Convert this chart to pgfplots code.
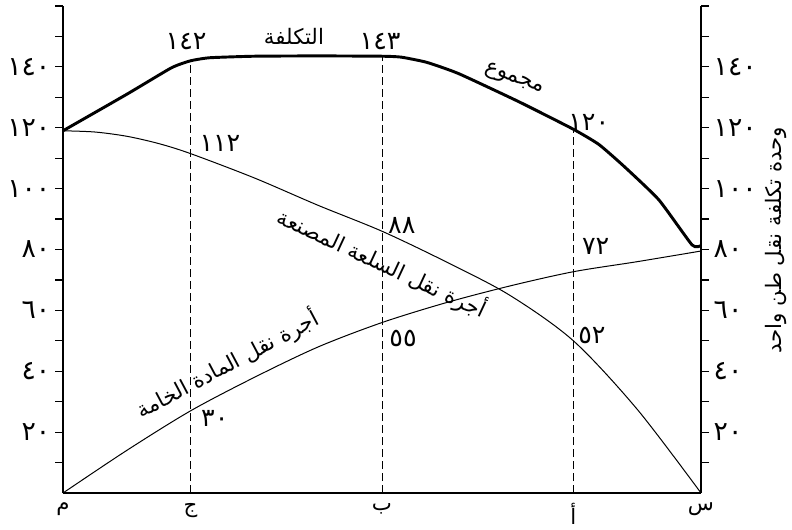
\documentclass[border=0pt]{standalone}
\usepackage{pgfplots}
\pgfplotsset{compat=1.18}
\usepackage{fontspec}
\newfontfamily\arabicfont[Script=Arabic]{DejaVu Sans}
\TeXXeTstate=1
\newcommand{\ar}[1]{{\arabicfont\fontsize{16}{18}\selectfont\beginR #1\endR}}
\newcommand{\num}[1]{{\arabicfont\fontsize{19}{21}\selectfont #1}}

\pgfplotsset{
  costaxis/.style={
    at={(0,0)}, anchor=south west,
    scale only axis, width=478.5pt, height=365.25pt,
    xmin=0, xmax=100, ymin=0, ymax=160,
    ytick={20,40,60,80,100,120,140},
    yticklabels={٢٠,٤٠,٦٠,٨٠,١٠٠,١٢٠,١٤٠},
    minor ytick={10,30,50,70,90,110,130,150,160},
    tick align=outside, major tick length=6pt, minor tick length=6pt,
    ytick style={line width=0.9pt, black},
    axis line style={line width=0.9pt},
    yticklabel style={font=\arabicfont\fontsize{20}{22}\selectfont},
    xticklabel style={font=\arabicfont\fontsize{16}{18}\selectfont, yshift=2pt},
    clip=false,
  }
}

\begin{document}
\begin{tikzpicture}
\useasboundingbox (-47.25pt,-27pt) rectangle (546.75pt,369.75pt);
\begin{axis}[costaxis,
  axis x line*=bottom, axis y line*=left,
  xtick={0,20,50,80,100},
  xticklabels={م,ج,ب,أ,س},
  xtick style={draw=none},
]
% guide lines
\addplot[black, line width=0.7pt, dash pattern=on 6pt off 3pt] coordinates {(20,0) (20,142)};
\addplot[black, line width=0.7pt, dash pattern=on 6pt off 3pt] coordinates {(50,0) (50,143.5)};
\addplot[black, line width=0.7pt, dash pattern=on 6pt off 3pt] coordinates {(80,0) (80,119.5)};
% raw material transport cost
\addplot[black, line width=0.75pt, smooth] coordinates {
  (0,0) (10,14) (20,27) (30,38) (40,48) (50,56) (60,62.5) (70,68) (80,72.7) (90,76) (100,79.5)};
% finished goods transport cost
\addplot[black, line width=0.75pt, smooth] coordinates {
  (0,119) (5,118.6) (10,117.2) (15,114.8) (20,111.5) (30,103.5) (40,94.5) (50,86) (60,76) (70,65) (80,50) (90,27.5) (100,0)};
% total
\addplot[black, line width=2.2pt, smooth, tension=0.3] coordinates {
  (0,119) (10,131) (17,139.7) (20,142) (23,143) (30,143.5) (40,143.6) (50,143.5) (53,143.2)
  (57,141.5) (62,137.8) (71.5,128.5) (80,119.5) (84,114.5) (88,107.2) (93.4,96.3) (98.6,81.5) (100,81.3)};

\node at (axis cs:19.3,148.2) {\num{١٤٢}};
\node at (axis cs:36.2,150.1) {\ar{التكلفة}};
\node at (axis cs:49.7,148.2) {\num{١٤٣}};
\node[rotate=-20] at (axis cs:70.7,136) {\ar{مجموع}};
\node at (axis cs:82.4,121.9) {\num{١٢٠}};
\node at (axis cs:24.6,114.7) {\num{١١٢}};
\node at (axis cs:53.1,88) {\num{٨٨}};
\node at (axis cs:83.5,81.1) {\num{٧٢}};
\node at (axis cs:53.3,50.9) {\num{٥٥}};
\node at (axis cs:82.9,51.6) {\num{٥٢}};
\node at (axis cs:23.8,24.6) {\num{٣٠}};
\node[rotate=-25] at (axis cs:50,75.5) {\ar{أجرة نقل السلعة المصنعة}};
\node[rotate=28] at (axis cs:25.7,42.3) {\ar{أجرة نقل المادة الخامة}};
\node[rotate=90] at (axis cs:111.8,83.1) {\ar{وحدة تكلفة نقل طن واحد}};
\end{axis}
\begin{axis}[costaxis,
  axis x line=none, axis y line*=right,
  xtick=\empty,
]
\end{axis}
\end{tikzpicture}
\end{document}
